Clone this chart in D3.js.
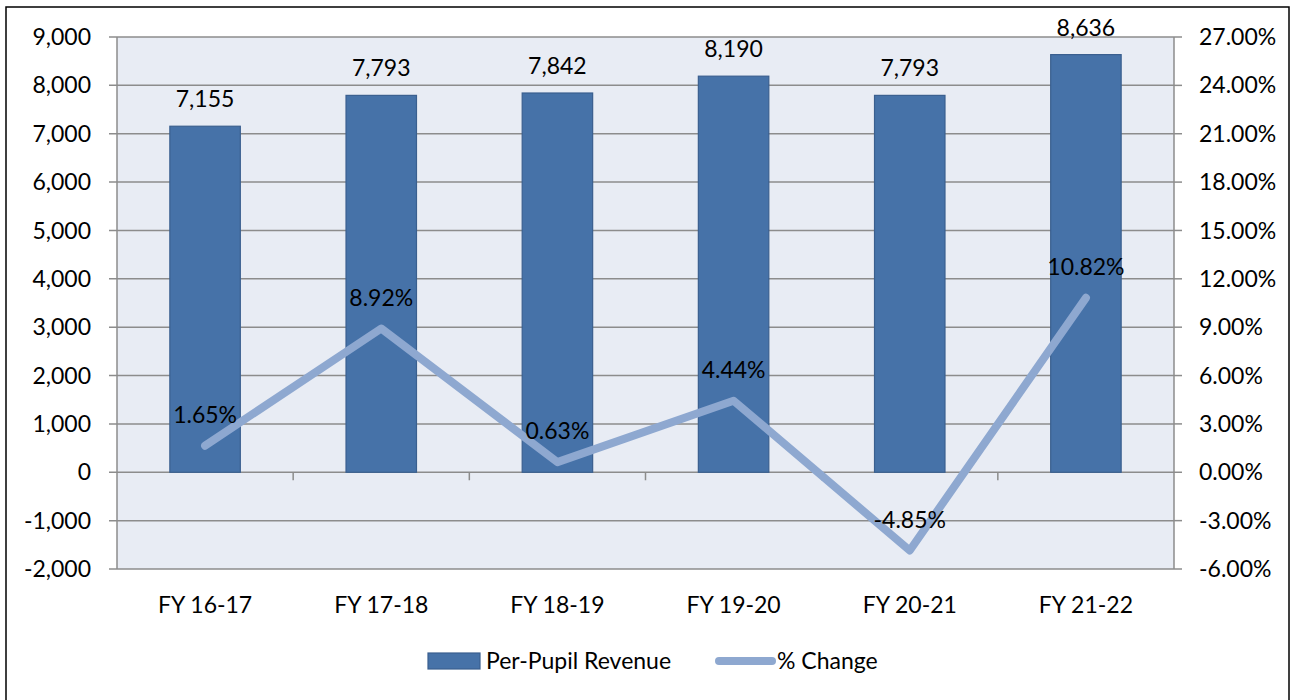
<!DOCTYPE html>
<html><head><meta charset="utf-8">
<script src="https://cdn.jsdelivr.net/npm/d3@7"></script>
<style>body{margin:0;background:#fff;}svg{display:block;font-family:Lato, "Open Sans", sans-serif;}</style>
</head><body><svg id="c" width="1295" height="700"></svg>
<script>
const categories = ["FY 16-17","FY 17-18","FY 18-19","FY 19-20","FY 20-21","FY 21-22"];
const revenue = [7155, 7793, 7842, 8190, 7793, 8636];
const pctChange = [1.65, 8.92, 0.63, 4.44, -4.85, 10.82];
const leftTicks = [-2000,-1000,0,1000,2000,3000,4000,5000,6000,7000,8000,9000];
const rightTicks = [-6,-3,0,3,6,9,12,15,18,21,24,27];
const seriesNames = ["Per-Pupil Revenue","% Change"];

const svg = d3.select("#c");
const L=117, R=1174, T=37, B=569;
const fs = 23;
const fmt = d => d3.format(",")(d).replace("\u2212","-");
svg.append("rect").attr("x",6).attr("y",7).attr("width",1283).attr("height",700).attr("fill","#fff").attr("stroke","#000").attr("stroke-width",1.5);

const x = d3.scaleBand().domain(categories).range([L,R]).paddingInner(0.6).paddingOuter(0.3);
const band = (R-L)/categories.length;
const yL = d3.scaleLinear().domain([-2000,9000]).range([B,T]);
const yR = d3.scaleLinear().domain([-6,27]).range([B,T]);
const cx = c => x(c)+x.bandwidth()/2;

svg.append("rect").attr("x",L).attr("y",T).attr("width",R-L).attr("height",B-T).attr("fill","#e8ecf4");
const grid="#8c8c8c";
svg.append("g").selectAll("line").data(leftTicks).join("line")
  .attr("x1",L-8).attr("x2",R).attr("y1",d=>yL(d)).attr("y2",d=>yL(d)).attr("stroke",grid).attr("stroke-width",1.5);
svg.append("g").selectAll("line").data(rightTicks).join("line")
  .attr("x1",R).attr("x2",R+8).attr("y1",d=>yR(d)).attr("y2",d=>yR(d)).attr("stroke",grid).attr("stroke-width",1.5);
svg.append("line").attr("x1",L).attr("x2",L).attr("y1",T).attr("y2",B).attr("stroke",grid).attr("stroke-width",1.5);
svg.append("line").attr("x1",R).attr("x2",R).attr("y1",T).attr("y2",B).attr("stroke",grid).attr("stroke-width",1.5);
svg.append("g").selectAll("line").data(d3.range(1,categories.length)).join("line")
  .attr("x1",d=>L+d*band).attr("x2",d=>L+d*band).attr("y1",yL(0)).attr("y2",yL(0)+8).attr("stroke",grid).attr("stroke-width",1.5);

svg.append("g").selectAll("text").data(leftTicks).join("text")
  .attr("x",91).attr("y",d=>yL(d)).attr("dy","0.35em").attr("text-anchor","end").attr("font-size",fs)
  .text(fmt);
svg.append("g").selectAll("text").data(rightTicks).join("text")
  .attr("x",1199).attr("y",d=>yR(d)).attr("dy","0.35em").attr("text-anchor","start").attr("font-size",fs)
  .text(d=>d.toFixed(2)+"%");
svg.append("g").selectAll("text").data(categories).join("text")
  .attr("x",d=>cx(d)).attr("y",605).attr("dy","0.35em").attr("text-anchor","middle").attr("font-size",fs).text(d=>d);

svg.append("g").selectAll("rect").data(revenue).join("rect")
  .attr("x",(d,i)=>x(categories[i])).attr("width",x.bandwidth())
  .attr("y",d=>yL(d)).attr("height",d=>yL(0)-yL(d))
  .attr("fill","#4672a8").attr("stroke","#3a5f8f").attr("stroke-width",1.2);
svg.append("g").selectAll("text").data(revenue).join("text")
  .attr("x",(d,i)=>cx(categories[i])).attr("y",d=>yL(d)-27).attr("dy","0.35em").attr("text-anchor","middle").attr("font-size",fs)
  .text(fmt);

const line = d3.line().x((d,i)=>cx(categories[i])).y(d=>yR(d));
svg.append("path").datum(pctChange).attr("d",line).attr("fill","none").attr("stroke","#8ea8d0")
  .attr("stroke-width",8).attr("stroke-linecap","round").attr("stroke-linejoin","round");
svg.append("g").selectAll("text").data(pctChange).join("text")
  .attr("x",(d,i)=>cx(categories[i])).attr("y",d=>yR(d)-31).attr("dy","0.35em").attr("text-anchor","middle").attr("font-size",fs)
  .text(d=>d.toFixed(2)+"%");

svg.append("rect").attr("x",428).attr("y",653).attr("width",52).attr("height",16).attr("fill","#4672a8").attr("stroke","#3a5f8f").attr("stroke-width",1.2);
svg.append("text").attr("x",486).attr("y",661).attr("dy","0.35em").attr("font-size",fs).text(seriesNames[0]);
svg.append("line").attr("x1",719).attr("x2",772).attr("y1",661).attr("y2",661).attr("stroke","#8ea8d0").attr("stroke-width",8).attr("stroke-linecap","round");
svg.append("text").attr("x",777).attr("y",661).attr("dy","0.35em").attr("font-size",fs).text(seriesNames[1]);
</script></body></html>
